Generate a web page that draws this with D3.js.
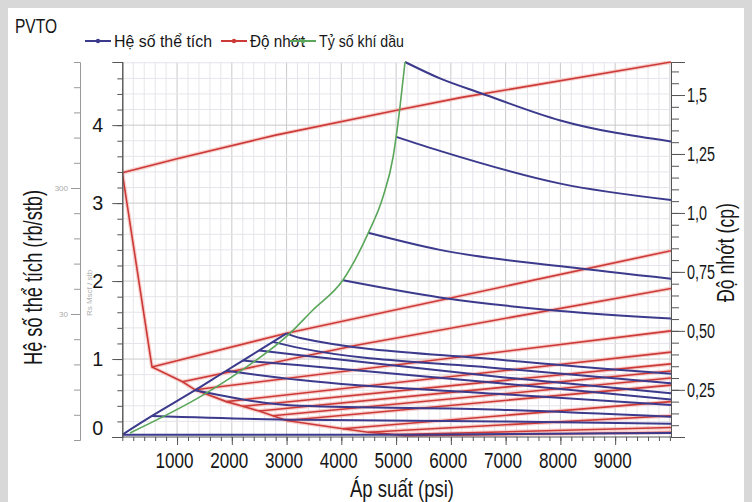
<!DOCTYPE html>
<html>
<head>
<meta charset="utf-8" />
<title>PVTO</title>
<script src="https://d3js.org/d3.v7.min.js"></script>
<style>
  body { margin: 0; background: #fff; }
  svg { display: block; }
  text { font-family: "Liberation Sans", "Arimo", sans-serif; fill: #161616; }
  .axis path, .axis line { stroke: #555; }
  .rs path, .rs line { stroke: #9a9a9a; }
</style>
</head>
<body>
<svg id="chart" width="752" height="502"></svg>
<script>
// Pressure (psi) tick labels
const pressureTicks = [1000, 2000, 3000, 4000, 5000, 6000, 7000, 8000, 9000];
const boTicks = [0, 1, 2, 3, 4];
const viscTicks = [0.25, 0.5, 0.75, 1.0, 1.25, 1.5];
const viscTickLabels = ["0,25", "0,50", "0,75", "1,0", "1,25", "1,5"];
const rsTicks = [5, 10];
const rsTickLabels = ["30", "300"];

// Tỷ số khí dầu (saturation curve) [psi, Rs]
const gasOilRatio = [[140, 0.28], [1480, 1.79], [2190, 2.78], [3030, 4.17], [3480, 5.16], [4030, 6.35],
  [4490, 8.21], [4760, 9.64], [4945, 11.23], [5000, 12.02], [5070, 13.2], [5163, 15.0]];

// Hệ số thể tích: saturated line + undersaturated branches [psi, Bo]
const boSaturated = [[0, 0.03], [542, 0.27], [1330, 0.60], [1900, 0.85], [2200, 0.98], [2500, 1.11], [2750, 1.22], [3000, 1.33]];
const boBranches = [
  [[5163, 4.81], [5800, 4.6], [6550, 4.41], [8000, 4.06], [10020, 3.79]],
  [[5000, 3.85], [5800, 3.67], [8000, 3.25], [10020, 3.04]],
  [[4490, 2.62], [5800, 2.40], [8130, 2.18], [10020, 2.03]],
  [[4030, 2.01], [5800, 1.79], [7940, 1.62], [10020, 1.52]],
  [[3000, 1.33], [3250, 1.27], [6900, 0.99], [10020, 0.81]],
  [[2750, 1.22], [3250, 1.14], [6900, 0.88], [10020, 0.69]],
  [[2500, 1.11], [3250, 1.05], [6900, 0.77], [10020, 0.56]],
  [[2200, 0.98], [3250, 0.92], [6900, 0.69], [10020, 0.48]],
  [[1900, 0.85], [3250, 0.73], [6900, 0.55], [10020, 0.41]],
  [[1330, 0.60], [3250, 0.40], [6900, 0.35], [10020, 0.26]],
  [[542, 0.27], [3250, 0.22], [6900, 0.20], [10020, 0.17]],
  [[0, 0.03], [5000, 0.03], [10020, 0.05]]
];

// Độ nhớt: saturated line + undersaturated branches [psi, cp]
const viscSaturated = [[0, 1.17], [542, 0.347], [1100, 0.284], [1330, 0.25], [1900, 0.20], [2200, 0.18], [2500, 0.16],
  [2750, 0.14], [3000, 0.12], [4030, 0.085], [4490, 0.07], [5000, 0.06], [5163, 0.055]];
const viscBranches = [
  [[0, 1.17], [1000, 1.23], [2800, 1.33], [5100, 1.44], [6200, 1.49], [10020, 1.64]],
  [[542, 0.347], [3000, 0.49], [10020, 0.84]],
  [[1100, 0.284], [4300, 0.44], [10020, 0.68]],
  [[1330, 0.25], [10020, 0.50]],
  [[1900, 0.20], [10020, 0.41]],
  [[2200, 0.18], [10020, 0.36]],
  [[2500, 0.16], [10020, 0.33]],
  [[2750, 0.14], [10020, 0.30]],
  [[3000, 0.12], [10020, 0.27]],
  [[4030, 0.085], [10020, 0.20]],
  [[4490, 0.07], [10020, 0.14]],
  [[5000, 0.06], [10020, 0.09]],
  [[5163, 0.055], [10020, 0.07]]
];

const blue = "#3b3a8c", red = "#cc3a38", green = "#5aa65a";

const svg = d3.select("#chart");
const plot = { left: 122.3, right: 671, top: 62, bottom: 437 };

// squeeze text to the condensed widths of the original
function fit(sel, w) {
  sel.attr("textLength", w).attr("lengthAdjust", "spacingAndGlyphs");
}

// frame
svg.append("rect").attr("width", 752).attr("height", 502).attr("fill", "#d8d8d8");
svg.append("rect").attr("x", 8).attr("y", 8).attr("width", 736).attr("height", 494).attr("fill", "#fff");

const x = d3.scaleLinear().domain([0, 10020]).range([plot.left, plot.right]);
const yL = d3.scaleLinear().domain([0, 4.81]).range([plot.bottom, plot.top]);
const yR = d3.scaleLinear().domain([0.05, 1.64]).range([plot.bottom, plot.top]);
const yRs = d3.scaleLinear().domain([0, 15]).range([440, plot.top]);

// grid
const grid = svg.append("g");
d3.range(200, 10001, 200).forEach(p => {
  grid.append("line").attr("x1", x(p)).attr("x2", x(p)).attr("y1", plot.top).attr("y2", plot.bottom)
    .attr("stroke", p % 1000 === 0 ? "#c9c9c9" : "#e6e4ea").attr("stroke-width", 1);
});
d3.range(1, 25).forEach(i => {
  const v = i * 0.2;
  grid.append("line").attr("x1", plot.left).attr("x2", plot.right).attr("y1", yL(v)).attr("y2", yL(v))
    .attr("stroke", i % 5 === 0 ? "#c9c9c9" : "#e6e4ea").attr("stroke-width", 1);
});

// lines
svg.append("clipPath").attr("id", "clip").append("rect")
  .attr("x", plot.left).attr("y", plot.top - 1).attr("width", plot.right - plot.left).attr("height", plot.bottom - plot.top + 1);
const lines = svg.append("g").attr("clip-path", "url(#clip)");

const lineR = d3.line().x(d => x(d[0])).y(d => yR(d[1]));
const lineL = d3.line().x(d => x(d[0])).y(d => yL(d[1])).curve(d3.curveMonotoneX);
const lineRs = d3.line().x(d => x(d[0])).y(d => yRs(d[1])).curve(d3.curveMonotoneX);

const viscAll = [viscSaturated].concat(viscBranches);
lines.selectAll(".vh").data(viscAll).enter().append("path")
  .attr("d", lineR).attr("fill", "none").attr("stroke", "#f5bcb8").attr("stroke-width", 4).attr("opacity", 0.7);
lines.selectAll(".v").data(viscAll).enter().append("path")
  .attr("d", lineR).attr("fill", "none").attr("stroke", red).attr("stroke-width", 1.6);

lines.selectAll(".b").data([boSaturated].concat(boBranches)).enter().append("path")
  .attr("d", lineL).attr("fill", "none").attr("stroke", blue).attr("stroke-width", 2);

lines.append("path").datum(gasOilRatio)
  .attr("d", lineRs).attr("fill", "none").attr("stroke", green).attr("stroke-width", 1.6);

// axes
const xMinor = svg.append("g").attr("class", "axis").attr("transform", `translate(0,${plot.bottom})`)
  .call(d3.axisBottom(x).tickValues(d3.range(0, 10001, 200)).tickSize(4).tickFormat(""));
xMinor.select(".domain").attr("d", `M${plot.left},0H${plot.right}`);
const xAxis = svg.append("g").attr("class", "axis").attr("transform", `translate(0,${plot.bottom})`)
  .call(d3.axisBottom(x).tickValues(pressureTicks).tickSize(8).tickPadding(7).tickFormat(d3.format("d")));
xAxis.select(".domain").remove();
xAxis.selectAll("text").attr("font-size", 22).attr("dx", -3).call(fit, 38);

const lMinor = svg.append("g").attr("class", "axis").attr("transform", `translate(${plot.left},0)`)
  .call(d3.axisLeft(yL).tickValues(d3.range(0, 24).map(i => i * 0.2)).tickSize(5).tickFormat(""));
const lAxis = svg.append("g").attr("class", "axis").attr("transform", `translate(${plot.left},0)`)
  .call(d3.axisLeft(yL).tickValues(boTicks).tickSize(10).tickPadding(9).tickFormat(d3.format("d")));
lAxis.selectAll("text").attr("font-size", 21).call(fit, 11);
lAxis.selectAll(".tick").filter(d => d === 0).select("text").attr("y", -9);

const rMinor = svg.append("g").attr("class", "axis").attr("transform", `translate(${plot.right},0)`)
  .call(d3.axisRight(yR).tickValues(d3.range(1, 33).map(i => i * 0.05)).tickSize(8).tickFormat(""));
const rAxis = svg.append("g").attr("class", "axis").attr("transform", `translate(${plot.right},0)`)
  .call(d3.axisRight(yR).tickValues(viscTicks).tickSize(14).tickPadding(2)
    .tickFormat((d, i) => viscTickLabels[i]));
rAxis.selectAll("text").attr("font-size", 20)
  .each(function (d, i) { d3.select(this).call(fit, viscTickLabels[i].length > 3 ? 28 : 20); });

// faint Rs axis
const rsAxis = svg.append("g").attr("class", "rs").attr("transform", "translate(80,0)")
  .call(d3.axisLeft(yRs).tickValues(d3.range(1, 15)).tickSize(6).tickFormat(""));
rsAxis.append("g").call(d3.axisLeft(yRs).tickValues(rsTicks).tickSize(9).tickPadding(3)
  .tickFormat((d, i) => rsTickLabels[i]))
  .call(g => g.select(".domain").remove())
  .selectAll("text").attr("font-size", 8).style("fill", "#aaa");
rsAxis.selectAll("line").attr("stroke", "#9a9a9a");
svg.append("text").attr("transform", "translate(92,293) rotate(-90)")
  .attr("text-anchor", "middle").attr("font-size", 8).style("fill", "#b0b0b0").text("Rs   Mscf / stb");

// labels
svg.append("text").attr("x", 15).attr("y", 33).attr("font-size", 21).text("PVTO").call(fit, 42);
svg.append("text").attr("x", 350).attr("y", 497).attr("font-size", 24).text("Áp suất (psi)").call(fit, 104);
svg.append("text").attr("transform", "translate(42,365) rotate(-90)")
  .attr("font-size", 26).text("Hệ số thể tích (rb/stb)").call(fit, 175);
svg.append("text").attr("transform", "translate(734,302) rotate(-90)")
  .attr("font-size", 23).text("Độ nhớt (cp)").call(fit, 99);

// legend
const legendItems = [
  { name: "Hệ số thể tích", color: blue, x: 85, w: 98 },
  { name: "Độ nhớt", color: red, x: 221, w: 55 },
  { name: "Tỷ số khí dầu", color: green, x: 290, w: 85 }
];
const lg = svg.append("g").selectAll("g").data(legendItems).enter().append("g")
  .attr("transform", d => `translate(${d.x},41)`);
lg.append("line").attr("x1", 0).attr("x2", 26).attr("stroke", d => d.color).attr("stroke-width", 2);
lg.append("circle").attr("cx", 13).attr("r", 2.2).attr("fill", d => d.color);
lg.append("text").attr("x", 29).attr("y", 6).attr("font-size", 17).text(d => d.name)
  .each(function (d) { d3.select(this).call(fit, d.w); });
</script>
</body>
</html>
